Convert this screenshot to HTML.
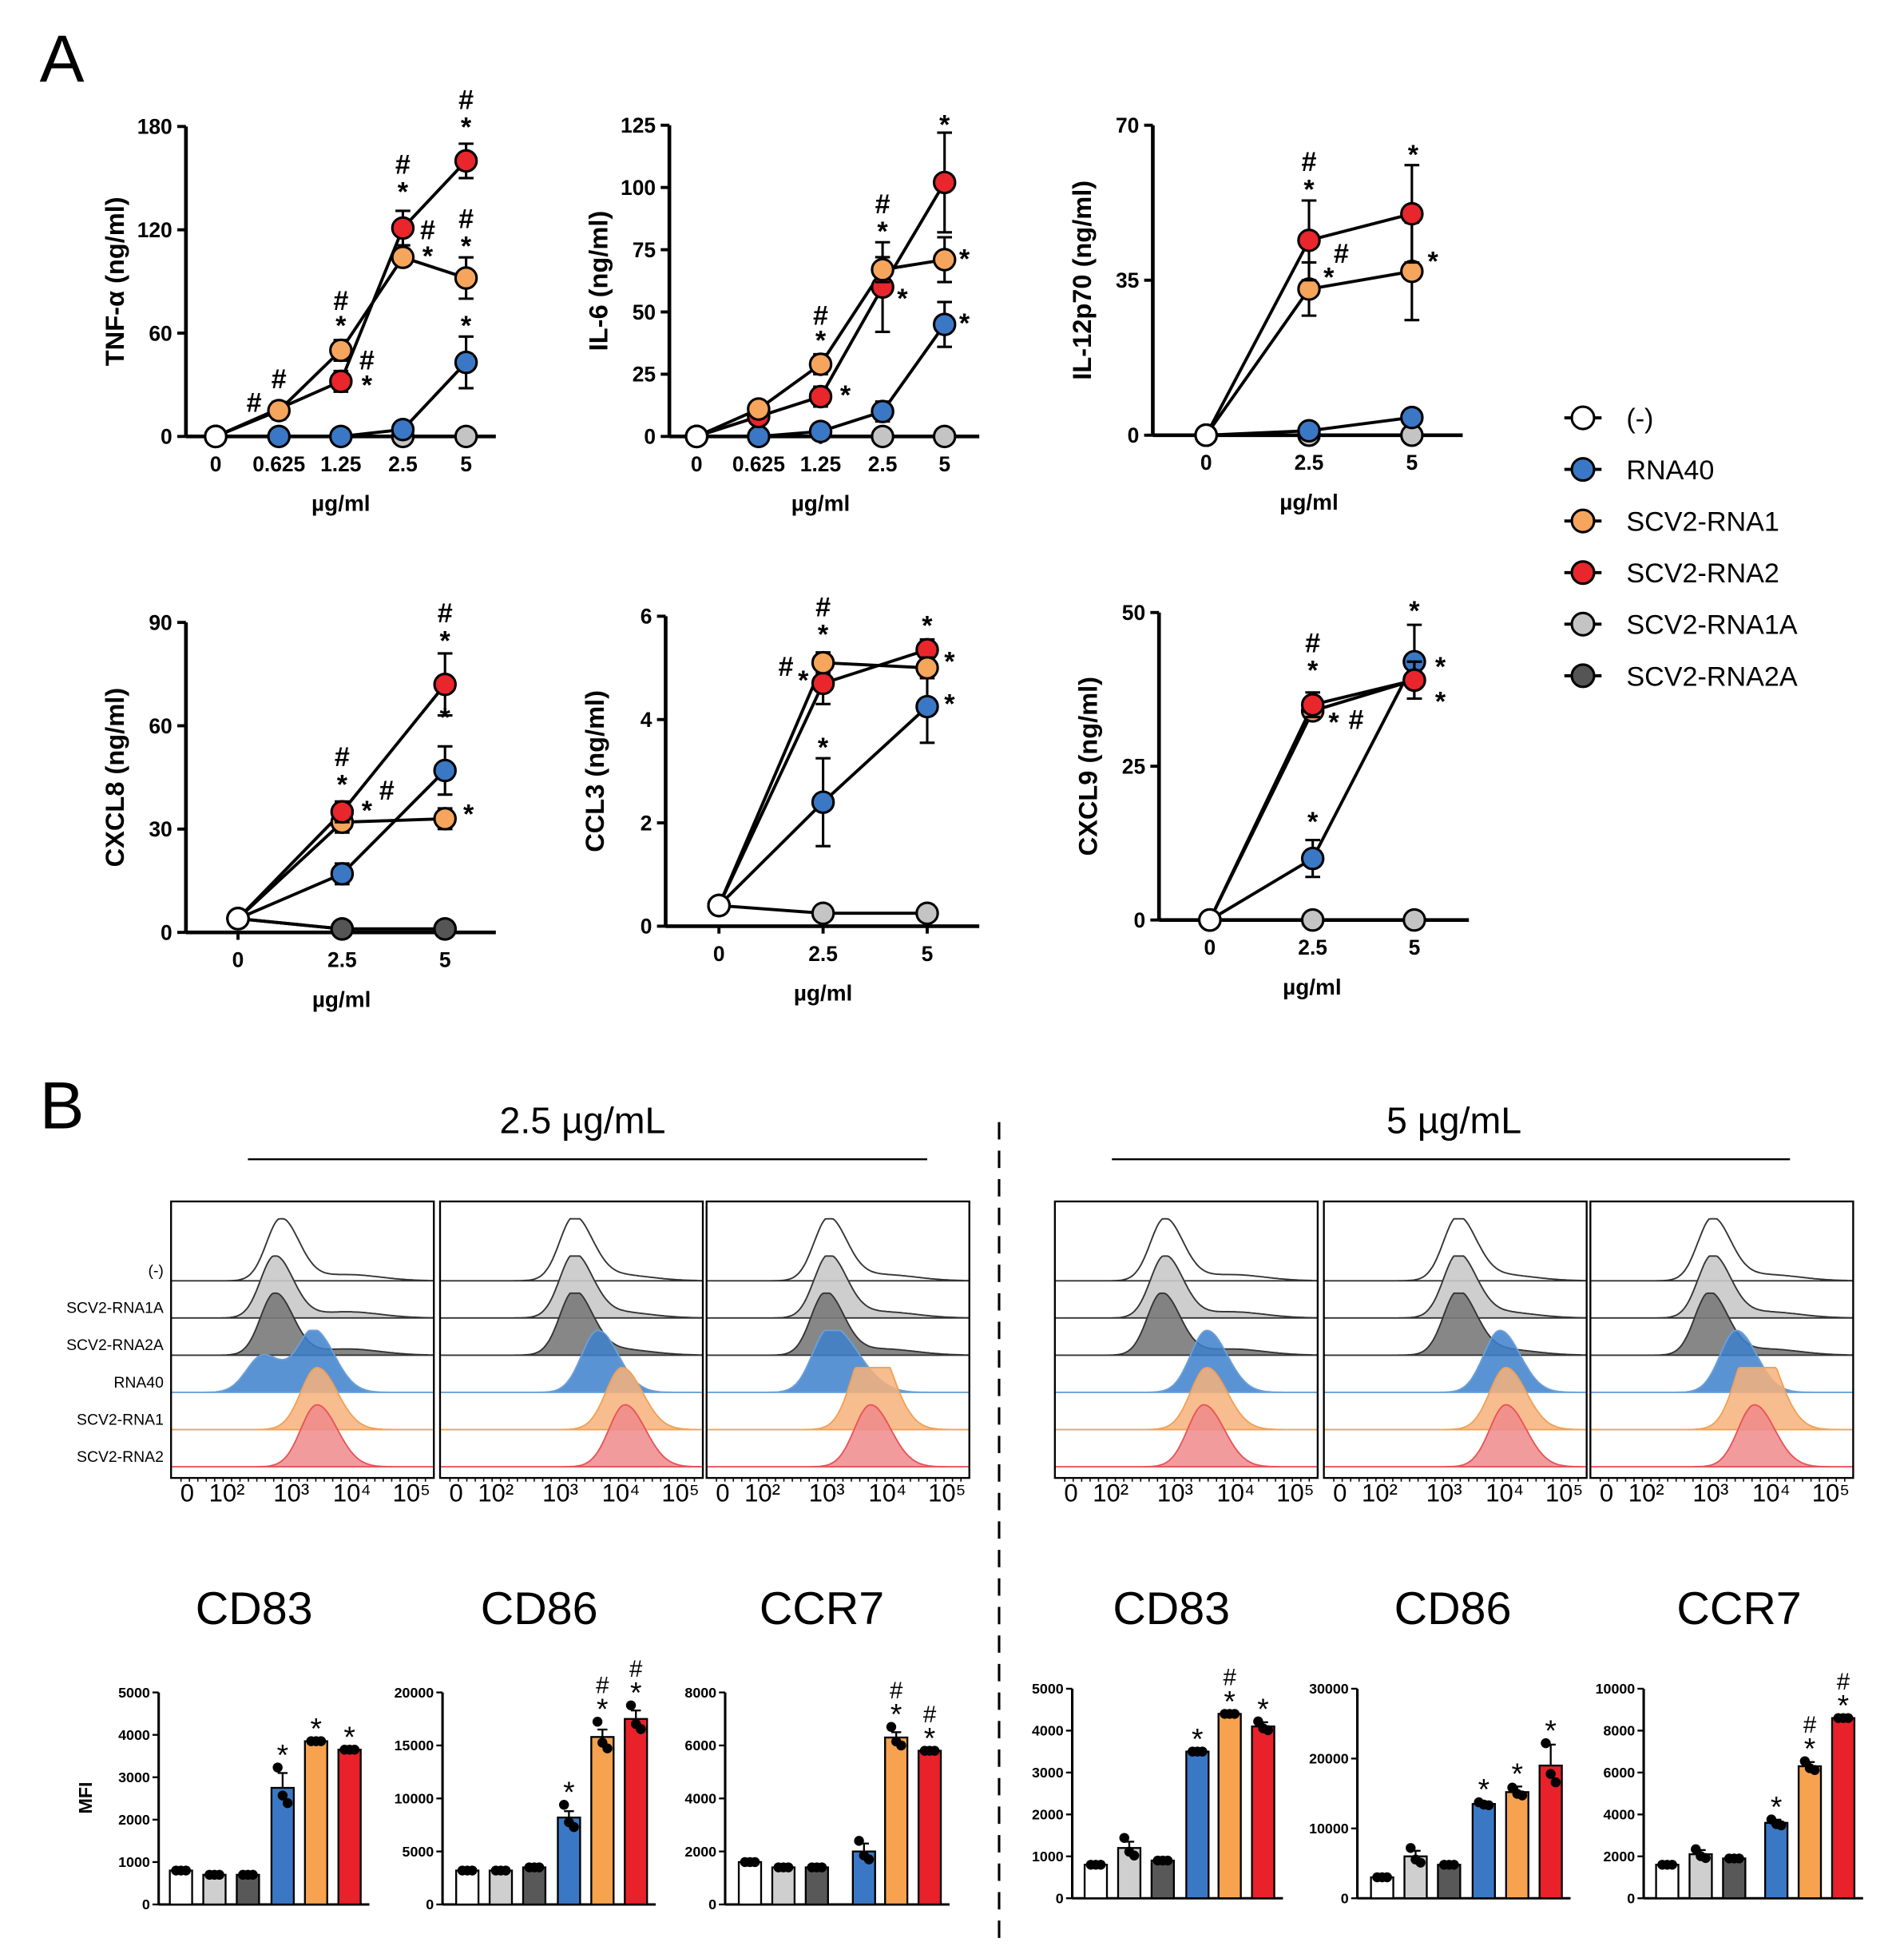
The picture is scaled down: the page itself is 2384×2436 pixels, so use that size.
<!DOCTYPE html>
<html><head><meta charset="utf-8"><style>
html,body{margin:0;padding:0;background:#fff}
svg{display:block}
text{font-family:"Liberation Sans",Arial,sans-serif}
</style></head><body>
<svg id="s" xmlns="http://www.w3.org/2000/svg" width="2384" height="2436" viewBox="0 0 1536 1569.5" preserveAspectRatio="none">
<rect x="0" y="0" width="1536" height="1569.5" fill="#fff"/>
<text x="32" y="66" font-size="54">A</text>
<text x="32" y="910" font-size="54">B</text>
</svg>
<script>
const S=document.getElementById('s');const NS='http://www.w3.org/2000/svg';
function el(t,a,txt,par){const e=document.createElementNS(NS,t);for(const k in a)e.setAttribute(k,a[k]);if(txt!==undefined&&txt!==null)e.textContent=txt;(par||S).appendChild(e);return e;}
function line(x1,y1,x2,y2,w,c,extra){return el('line',Object.assign({x1,y1,x2,y2,stroke:c||'#000','stroke-width':w||2},extra||{}));}
function txt(x,y,t,fs,anchor,extra){return el('text',Object.assign({x,y,'font-size':fs,'text-anchor':anchor||'start'},extra||{}),t);}
const C={w:'#fff',b:'#3a78c6',o:'#f6a55c',r:'#e8262b',g:'#c4c4c4',d:'#555'};

function scatter(p){
 const sy=v=>p.yb-(v/p.ymax)*(p.yb-p.yt);
 line(p.x0,p.yt,p.x0,p.yb,3);line(p.x0,p.yb,p.xe,p.yb,3);
 p.ticks.forEach(t=>{const y=sy(t);line(p.x0-7,y,p.x0,y,2.5);txt(p.x0-11,y+6,t,17,'end',{'font-weight':'bold'});});
 p.xs.forEach((x,i)=>{line(x,p.yb,x,p.yb+6,2.5);txt(x,p.yb+28,p.xl[i],17,'middle',{'font-weight':'bold'});});
 txt((p.xs[0]+p.xs[p.xs.length-1])/2,p.yb+60,'µg/ml',18,'middle',{'font-weight':'bold'});
 el('text',{x:0,y:0,'font-size':21,'font-weight':'bold','text-anchor':'middle',transform:`translate(${p.x0-50},${(p.yt+p.yb)/2}) rotate(-90)`},p.yl);
 p.ser.forEach(s=>{
  const pts=[];s.v.forEach((v,i)=>{if(v!==null)pts.push([p.xs[i],sy(v)]);});
  if(pts.length>1)el('polyline',{points:pts.map(q=>q[0]+','+q[1]).join(' '),fill:'none',stroke:'#000','stroke-width':2.5});
 });
 p.ser.forEach(s=>{
  s.v.forEach((v,i)=>{if(v===null)return;const x=p.xs[i],y=sy(v),e=s.e?s.e[i]:0;
   if(e){const d=e/p.ymax*(p.yb-p.yt);line(x,y-d,x,y+d,2);line(x-6,y-d,x+6,y-d,2);line(x-6,y+d,x+6,y+d,2);}
   el('circle',{cx:x,cy:y,r:8.5,fill:C[s.c],stroke:'#000','stroke-width':2});});
 });
 (p.ann||[]).forEach(a=>txt(a[0],a[1],a[2],22,'middle',{'font-weight':'bold'}));
}
const N=null;
scatter({x0:150,yt:102,yb:352,xe:400,ymax:180,ticks:[0,60,120,180],xs:[174,225,275,325,376],xl:['0','0.625','1.25','2.5','5'],yl:'TNF-α (ng/ml)',
 ser:[{c:'g',v:[0,N,N,0,0]},{c:'b',v:[0,0,0,4,43],e:[0,0,0,2,15]},{c:'o',v:[0,15,50,104,92],e:[0,5,6,4,12]},{c:'r',v:[0,N,32,121,160],e:[0,0,6,10,10]},{c:'w',v:[0,N,N,N,N]}],
 ann:[[205,332,'#'],[225,313,'#'],[275,250,'#'],[275,270,'*'],[296,298,'#'],[296,318,'*'],[325,140,'#'],[325,162,'*'],[345,193,'#'],[345,214,'*'],[376,88,'#'],[376,110,'*'],[376,184,'#'],[376,206,'*'],[376,270,'*']]});
scatter({x0:540,yt:101,yb:352,xe:790,ymax:125,ticks:[0,25,50,75,100,125],xs:[562,612,662,712,762],xl:['0','0.625','1.25','2.5','5'],yl:'IL-6 (ng/ml)',
 ser:[{c:'g',v:[0,N,N,0,0]},{c:'b',v:[0,0,2,10,45],e:[0,0,0,4,9]},{c:'r',v:[0,8,16,60,102],e:[0,0,4,18,20]},{c:'o',v:[0,11,29,67,71],e:[0,2,4,5,9]},{c:'w',v:[0,N,N,N,N]}],
 ann:[[662,262,'#'],[662,282,'*'],[682,326,'*'],[712,172,'#'],[712,194,'*'],[728,248,'*'],[762,108,'*'],[778,216,'*'],[778,268,'*']]});
scatter({x0:930,yt:101,yb:351,xe:1180,ymax:70,ticks:[0,35,70],xs:[973,1056,1139],xl:['0','2.5','5'],yl:'IL-12p70 (ng/ml)',
 ser:[{c:'g',v:[0,0,0]},{c:'b',v:[0,1,4]},{c:'o',v:[0,33,37],e:[0,6,11]},{c:'r',v:[0,44,50],e:[0,9,11]},{c:'w',v:[0,N,N]}],
 ann:[[1056,138,'#'],[1056,160,'*'],[1072,231,'*'],[1082,212,'#'],[1140,132,'*'],[1156,218,'*']]});
scatter({x0:150,yt:502,yb:752,xe:400,ymax:90,ticks:[0,30,60,90],xs:[192,276,359],xl:['0','2.5','5'],yl:'CXCL8 (ng/ml)',
 ser:[{c:'g',v:[4,1,1]},{c:'d',v:[4,1,1]},{c:'b',v:[4,17,47],e:[0,3,7]},{c:'o',v:[4,32,33],e:[0,3,3]},{c:'r',v:[4,35,72],e:[0,3,9]},{c:'w',v:[4,N,N]}],
 ann:[[276,618,'#'],[276,640,'*'],[296,661,'*'],[312,645,'#'],[359,502,'#'],[359,524,'*'],[359,586,'*'],[378,664,'*']]});
scatter({x0:537,yt:497,yb:747,xe:790,ymax:6,ticks:[0,2,4,6],xs:[580,664,748],xl:['0','2.5','5'],yl:'CCL3 (ng/ml)',
 ser:[{c:'g',v:[0.4,0.25,0.25]},{c:'b',v:[0.4,2.4,4.25],e:[0,0.85,0.7]},{c:'r',v:[0.4,4.7,5.35],e:[0,0.4,0.2]},{c:'o',v:[0.4,5.1,5.0],e:[0,0.2,0.2]},{c:'w',v:[0.4,N,N]}],
 ann:[[664,497,'#'],[664,519,'*'],[634,545,'#'],[648,556,'*'],[664,610,'*'],[748,512,'*'],[766,541,'*'],[766,575,'*']]});
scatter({x0:935,yt:494,yb:742,xe:1185,ymax:50,ticks:[0,25,50],xs:[976,1059,1141],xl:['0','2.5','5'],yl:'CXCL9 (ng/ml)',
 ser:[{c:'g',v:[0,0,0]},{c:'b',v:[0,10,42],e:[0,3,6]},{c:'o',v:[0,34,39],e:[0,1,3]},{c:'r',v:[0,35,39],e:[0,2,3]},{c:'w',v:[0,N,N]}],
 ann:[[1059,526,'#'],[1059,548,'*'],[1076,590,'*'],[1094,588,'#'],[1059,670,'*'],[1141,500,'*'],[1162,545,'*'],[1162,573,'*']]});
[['w','(-)'],['b','RNA40'],['o','SCV2-RNA1'],['r','SCV2-RNA2'],['g','SCV2-RNA1A'],['d','SCV2-RNA2A']].forEach((l,i)=>{const y=337+i*41.6;
 line(1262,y,1292,y,2.5);el('circle',{cx:1277,cy:y,r:9,fill:C[l[0]],stroke:'#000','stroke-width':2});txt(1312,y+8,l[1],22,'start');});
txt(470,914,'2.5 µg/mL',30,'middle');line(200,935,748,935,1.5);
txt(1173,914,'5 µg/mL',30,'middle');line(897,935,1444,935,1.5);
line(806,905,806,1566,2,'#000',{'stroke-dasharray':'14,9'});
const boxes=[138,355,570,851,1068,1283];
const peaks=[
 [[2.9],[2.8],[2.8],[[2.6,.6],[3.45,1]],[3.5],[3.5]],
 [[3.3],[3.3],[3.3],[[3.7,1]],[4.1],[4.15]],
 [[3.1],[3.1],[3.05],[[3.1,1],[3.6,.3]],[[3.7,.8],[3.9,.8]],[3.8]],
 [[2.9],[2.9],[2.85],[3.6],[3.6],[3.55]],
 [[3.3],[3.3],[3.3],[4.0],[4.1],[4.1]],
 [[3.1],[3.1],[3.05],[3.5],[[3.7,.9],[3.95,.8]],[3.8]]];
const rc=[['#fff','#333'],['#c9c9c9','#333'],['#7a7a7a','#333'],['#3d80cc','#6aa0d8'],['#f7b27a','#f2a055'],['#ee8a8c','#e85457']];
const labs=['(-)','SCV2-RNA1A','SCV2-RNA2A','RNA40','SCV2-RNA1','SCV2-RNA2'];
const base=[1033,1063,1093,1123,1153,1183];
const defs=el('defs',{});
boxes.forEach((x0,bi)=>{
 const w=212,px=l=>x0+13+(l<=1?0:32+(l-2)*48.5);
 const cp=el('clipPath',{id:'c'+bi},null,defs);el('rect',{x:x0,y:940,width:w,height:252},null,cp);
 const g=el('g',{'clip-path':`url(#c${bi})`});
 for(let r=0;r<6;r++){
  const pk=peaks[bi][r].map(q=>Array.isArray(q)?q:[q,1]);
  const sd=r>=3?0.27:0.24;
  let d=`M${x0},${base[r]}`;
  for(let i=0;i<=160;i++){const lv=1.3+i*(5.6-1.3)/160;let v=0;
   pk.forEach(q=>{const s2=lv>q[0]?sd*1.25:sd;v+=q[1]*Math.exp(-((lv-q[0])**2)/(2*s2*s2));});
   if(r<3)v+=0.1*Math.exp(-((lv-4.0)**2)/0.6);
   v=Math.min(v,1.0);d+=` L${px(lv).toFixed(1)},${(base[r]-v*50).toFixed(1)}`;}
  d+=` L${x0+w},${base[r]} Z`;
  el('path',{d,fill:rc[r][0],'fill-opacity':r>=3?0.85:(r==0?1:0.9),stroke:rc[r][1],'stroke-width':1.2},null,g);
 }
 el('rect',{x:x0,y:969,width:w,height:223,fill:'none',stroke:'#000','stroke-width':1.5});
 for(let k=0;k<30;k++)line(x0+8+k*6.8,1192,x0+8+k*6.8,1195,1,'#000');
 [['0',13],['10²',45],['10³',97],['10⁴',146],['10⁵',194]].forEach(t=>txt(x0+t[1],1211,t[0],20,'middle'));
});
labs.forEach((l,i)=>txt(132,base[i]-4,l,12.5,'end'));
[['CD83',205],['CD86',435],['CCR7',663],['CD83',945],['CD86',1172],['CCR7',1403]].forEach(t=>txt(t[1],1310,t[0],37,'middle'));
const bc=['#fff','#cfcfcf','#585858','#3a78c6','#f6a24f','#e8212a'];
function bars(p){
 const sy=v=>p.yb-(v/p.ymax)*(p.yb-p.yt);
 line(p.x0,p.yt,p.x0,p.yb,2);line(p.x0,p.yb,p.cx[5]+16,p.yb,2);
 p.ticks.forEach(t=>{const y=sy(t);line(p.x0-5,y,p.x0,y,1.5);txt(p.x0-7,y+4,t,11.5,'end',{'font-weight':'bold'});});
 p.v.forEach((v,i)=>{const x=p.cx[i],y=sy(v);el('rect',{x:x-9,y,width:18,height:p.yb-y,fill:bc[i],stroke:'#000','stroke-width':1.5});
  const e=(p.e&&p.e[i])||0;if(e){const d=e/p.ymax*(p.yb-p.yt);line(x,y-d,x,y,1.5);line(x-4,y-d,x+4,y-d,1.5);}
  const spr=(p.s&&p.s[i])||0;[-1,0,1].forEach((k,j)=>el('circle',{cx:x+k*4,cy:sy(v+spr*[0.8,-0.3,-0.6][j]),r:4,fill:'#000'}));
  const a=(p.a&&p.a[i])||'';if(a){const dy=Math.max(e/p.ymax*(p.yb-p.yt),spr*0.8/p.ymax*(p.yb-p.yt));
   a.split('').reverse().forEach((c,k)=>txt(x,y-dy+(c=='*'?6:2)-8-k*17,c,c=='*'?24:19,'middle'));}
 });
}
bars({x0:128,yt:1365,yb:1536,ymax:5000,ticks:[0,1000,2000,3000,4000,5000],cx:[146,173,200,228,255,282],v:[800,700,700,2750,3850,3650],e:[0,0,0,350,0,0],s:[0,0,0,600,0,0],a:['','','','*','*','*']});
el('text',{x:0,y:0,'font-size':15,'font-weight':'bold','text-anchor':'middle',transform:'translate(74,1450) rotate(-90)'},'MFI');
bars({x0:357,yt:1365,yb:1536,ymax:20000,ticks:[0,5000,10000,15000,20000],cx:[377,404,431,459,486,513],v:[3200,3200,3500,8200,15800,17500],e:[0,0,0,600,700,800],s:[0,0,0,1500,1800,1600],a:['','','','*','#*','#*']});
bars({x0:585,yt:1365,yb:1536,ymax:8000,ticks:[0,2000,4000,6000,8000],cx:[605,632,659,697,723,750],v:[1600,1400,1400,2000,6300,5800],e:[0,0,0,300,200,0],s:[0,0,0,500,500,0],a:['','','','','#*','#*']});
bars({x0:865,yt:1362,yb:1531,ymax:5000,ticks:[0,1000,2000,3000,4000,5000],cx:[884,911,938,966,992,1019],v:[800,1200,900,3500,4400,4100],e:[0,150,0,0,0,100],s:[0,300,0,0,0,150],a:['','','','*','#*','*']});
bars({x0:1095,yt:1362,yb:1531,ymax:30000,ticks:[0,10000,20000,30000],cx:[1115,1142,1169,1197,1224,1251],v:[3000,6000,4800,13500,15200,19000],e:[0,800,0,300,800,3000],s:[0,1500,0,300,800,4000],a:['','','','*','*','*']});
bars({x0:1326,yt:1362,yb:1531,ymax:10000,ticks:[0,2000,4000,6000,8000,10000],cx:[1345,1372,1399,1433,1460,1487],v:[1600,2100,1900,3600,6300,8600],e:[0,200,0,150,200,0],s:[0,300,0,200,300,0],a:['','','','*','#*','#*']});
</script>
</body></html>
